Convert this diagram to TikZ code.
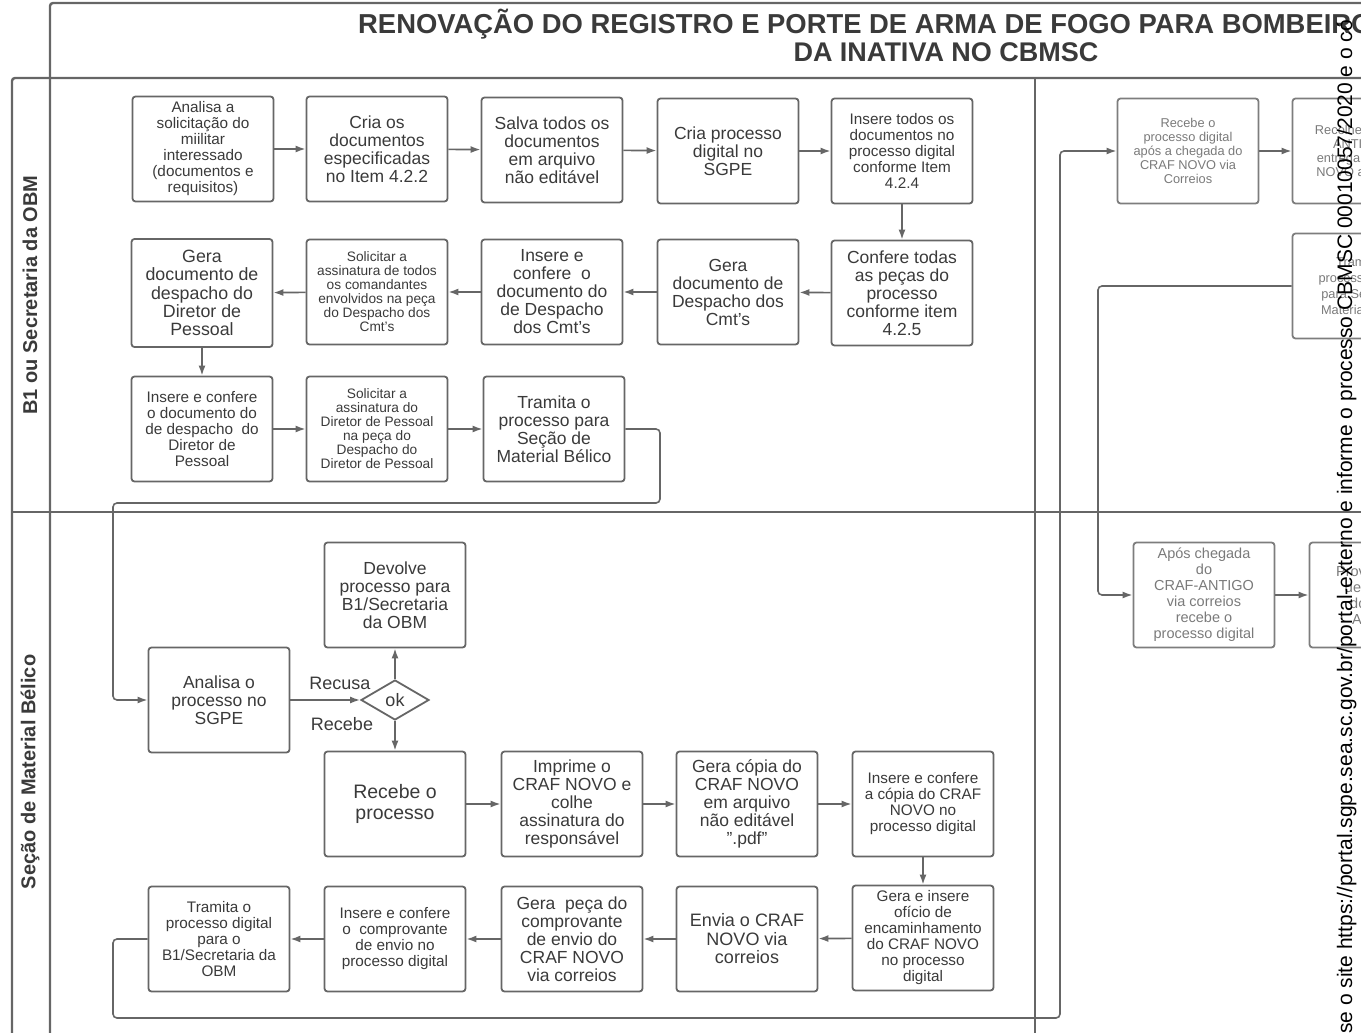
\documentclass[tikz,border=0pt]{standalone}
\usepackage{fontspec}
\setmainfont{Liberation Sans}
\usetikzlibrary{arrows.meta,shapes.geometric}
\definecolor{linec}{HTML}{666666}
\definecolor{txtc}{HTML}{3A3A3A}
\definecolor{fadec}{HTML}{7A7A7A}
\begin{document}
\begin{tikzpicture}[x=1pt,y=-1pt,
    box/.style={draw=linec, line width=1.8pt, rounded corners=3pt, minimum width=141pt,
      minimum height=105pt, align=center, inner sep=2pt, text=txtc},
    fadebox/.style={box, draw=linec!85, text=fadec},
    fs/.style={font=\fontsize{13.7}{14}\selectfont},
    fm/.style={font=\fontsize{15.3}{16}\selectfont},
    fl/.style={font=\fontsize{17.5}{18}\selectfont},
    fx/.style={font=\fontsize{17.8}{18.3}\selectfont},
    flow/.style={draw=linec, line width=1.6pt, -{Latex[length=10pt,width=7pt]}},
    conn/.style={flow, rounded corners=4pt},
    pool/.style={draw=linec, line width=2.4pt, rounded corners=3pt},
    lane/.style={rotate=90, text=txtc, font=\fontsize{20}{20}\selectfont\bfseries}]
  \useasboundingbox (0,0) rectangle (1361,1033);
  % pool and lanes
  \draw[pool] (50,1045) -- (50,3) -- (1375,3);
  \draw[pool] (12,1045) -- (12,78) -- (1375,78);
  \draw[pool] (12,512) -- (1375,512);
  \draw[pool] (1035,78) -- (1035,1045);
  \node[anchor=base west, inner sep=0pt, text=txtc, font=\fontsize{27.4}{27.4}\selectfont\bfseries] at (358,34) (title)
    {RENOVAÇÃO DO REGISTRO E PORTE DE ARMA DE FOGO PARA BOMBEIROS};
  \node[anchor=base, inner sep=0pt, text=txtc, font=\fontsize{27}{27}\selectfont\bfseries] at (946,62) (subtitle)
    {DA INATIVA NO CBMSC};
  \node[lane] at (30,295) (lane1) {B1 ou Secretaria da OBM};
  \node[lane] at (30,772) (lane2) {Seção de Material Bélico};
  % B1 / Secretaria
  \node[box,fm] at (203,149) (A1) {Analisa a\\solicitação do\\miilitar\\interessado\\(documentos e\\requisitos)};
  \node[box,fl] at (377,149) (A2) {Cria os\\documentos\\especificadas\\no Item 4.2.2};
  \node[box,fl] at (552,150) (A3) {Salva todos os\\documentos\\em arquivo\\não editável};
  \node[box,fl] at (728,151) (A4) {Cria processo\\digital no\\SGPE};
  \node[box,fm] at (902,151) (A5) {Insere todos os\\documentos no\\processo digital\\conforme Item\\4.2.4};
  \node[box,fl] at (902,293) (B5) {Confere todas\\as peças do\\processo\\conforme item\\4.2.5};
  \node[box,fl] at (728,292) (B4) {Gera\\documento de\\Despacho dos\\Cmt's};
  \node[box,fl] at (552,292) (B3) {Insere e\\confere~ o\\documento do\\de Despacho\\dos Cmt's};
  \node[box,fs] at (377,292) (B2) {Solicitar a\\assinatura de todos\\os comandantes\\envolvidos na peça\\do Despacho dos\\Cmt's};
  \node[box,fx,minimum height=108pt] at (202,293) (B1) {Gera\\documento de\\despacho do\\Diretor de\\Pessoal};
  \node[box,fm] at (202,429) (C1) {Insere e confere\\o documento do\\de despacho~ do\\Diretor de\\Pessoal};
  \node[box,fs] at (377,429) (C2) {Solicitar a\\assinatura do\\Diretor de Pessoal\\na peça do\\Despacho do\\Diretor de Pessoal};
  \node[box,fl] at (554,429) (C3) {Tramita o\\processo para\\Seção de\\Material Bélico};
  % Material Belico
  \node[box,fl] at (395,595) (D0) {Devolve\\processo para\\B1/Secretaria\\da OBM};
  \node[box,fl] at (219,700) (D1) {Analisa o\\processo no\\SGPE};
  \node[diamond, draw=linec, line width=1.8pt, aspect=1.7, minimum width=68pt, minimum height=40pt,
    inner sep=0pt, text=txtc, font=\fontsize{18}{18}\selectfont] at (395,700) (ok) {ok};
  \node[text=txtc, font=\fontsize{18}{18}\selectfont] at (340,683) (recusa) {Recusa};
  \node[text=txtc, font=\fontsize{18}{18}\selectfont] at (342,724) (recebe) {Recebe};
  \node[box,font=\fontsize{19.5}{20.5}\selectfont] at (395,804) (E1) {Recebe o\\processo};
  \node[box,fl] at (572,804) (E2) {Imprime o\\CRAF NOVO e\\colhe\\assinatura do\\responsável};
  \node[box,fl] at (747,804) (E3) {Gera cópia do\\CRAF NOVO\\em arquivo\\não editável\\".pdf"};
  \node[box,fm] at (923,804) (E4) {Insere e confere\\a cópia do CRAF\\NOVO no\\processo digital};
  \node[box,fm] at (923,938) (F4) {Gera e insere\\ofício de\\encaminhamento\\do CRAF NOVO\\no processo\\digital};
  \node[box,font=\fontsize{18}{18.5}\selectfont] at (747,939) (F3) {Envia o CRAF\\NOVO via\\correios};
  \node[box,fl] at (572,939) (F2) {Gera~ peça do\\comprovante\\de envio do\\CRAF NOVO\\via correios};
  \node[box,fm] at (395,939) (F1) {Insere e confere\\o~ comprovante\\de envio no\\processo digital};
  \node[box,fm] at (219,939) (F0) {Tramita o\\processo digital\\para o\\B1/Secretaria da\\OBM};
  % right part
  \node[fadebox,font=\fontsize{12.8}{14}\selectfont] at (1188,151) (R1) {Recebe o\\processo digital\\após a chegada do\\CRAF NOVO via\\Correios};
  \node[fadebox,font=\fontsize{12.8}{14}\selectfont] at (1363,151) (R2) {Recolhe o CRAF\\ANTIGO e\\entrega o CRAF\\NOVO ao militar};
  \node[fadebox,font=\fontsize{12.8}{16}\selectfont] at (1363,286) (R3) {Tramita o\\processo digital\\para Seção de\\Material Bélico};
  \node[fadebox,font=\fontsize{14.5}{16}\selectfont] at (1204,595) (S1) {Após chegada\\do\\CRAF-ANTIGO\\via correios\\recebe o\\processo digital};
  \node[fadebox,font=\fontsize{14.5}{16}\selectfont] at (1380,595) (S2) {Providencia a\\destinação\\do CRAF\\ANTIGO};
  % flows
  \draw[flow] (A1) -- (A2);
  \draw[flow] (A2) -- (A3);
  \draw[flow] (A3) -- (A4);
  \draw[flow] (A4) -- (A5);
  \draw[flow] (A5) -- (B5);
  \draw[flow] (B5) -- (B4);
  \draw[flow] (B4) -- (B3);
  \draw[flow] (B3) -- (B2);
  \draw[flow] (B2) -- (B1);
  \draw[flow] (B1) -- (C1);
  \draw[flow] (C1) -- (C2);
  \draw[flow] (C2) -- (C3);
  \draw[conn] (C3.east) -- (660,429) -- (660,503) -- (113,503) -- (113,700) -- (D1.west);
  \draw[flow] (D1) -- (ok);
  \draw[flow] (ok) -- (D0);
  \draw[flow] (ok) -- (E1);
  \draw[flow] (E1) -- (E2);
  \draw[flow] (E2) -- (E3);
  \draw[flow] (E3) -- (E4);
  \draw[flow] (E4) -- (F4);
  \draw[flow] (F4) -- (F3);
  \draw[flow] (F3) -- (F2);
  \draw[flow] (F2) -- (F1);
  \draw[flow] (F1) -- (F0);
  \draw[conn] (F0.west) -- (113,939) -- (113,1018) -- (1060,1018) -- (1060,151) -- (R1.west);
  \draw[flow] (R1) -- (R2);
  \draw[conn] (R3.west) -- (1098,286) -- (1098,595) -- (S1.west);
  \draw[flow] (S1) -- (S2);
  % watermark
  \node[rotate=90, anchor=base west, inner sep=0pt, font=\fontsize{21}{21}\selectfont] at (1352,1034) (wmark)
    {se o site https://portal.sgpe.sea.sc.gov.br/portal-externo e informe o processo CBMSC 00010057/2020 e o có};
\end{tikzpicture}
\end{document}
